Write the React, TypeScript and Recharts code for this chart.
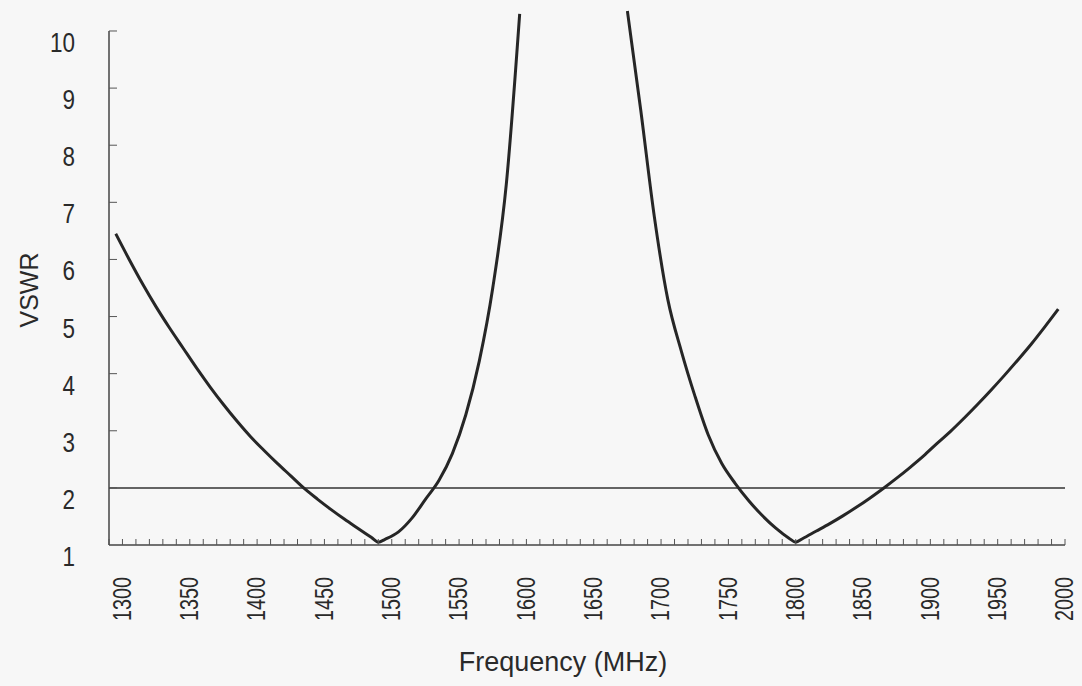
import { LineChart, Line, XAxis, YAxis, ReferenceLine } from 'recharts'

// frequency in MHz, VSWR (null where the curve runs off the top)
const freqs = [
  1300, 1310, 1320, 1330, 1340, 1350, 1360, 1370, 1380, 1390,
  1400, 1410, 1420, 1430, 1440, 1450, 1460, 1470, 1480, 1490, 1495,
  1500, 1510, 1520, 1530, 1540, 1550, 1560, 1570, 1580, 1590,
  1600, 1610, 1620, 1630, 1640, 1650, 1660, 1670, 1680, 1690,
  1700, 1710, 1720, 1730, 1740, 1750, 1760, 1770, 1780, 1790,
  1800, 1805, 1810, 1820, 1830, 1840, 1850, 1860, 1870, 1880, 1890,
  1900, 1910, 1920, 1930, 1940, 1950, 1960, 1970, 1980, 1990, 2000,
]
const vswr: (number | null)[] = [
  6.45, 6.0, 5.57, 5.17, 4.8, 4.45, 4.1, 3.77, 3.46, 3.17,
  2.9, 2.66, 2.43, 2.21, 1.99, 1.8, 1.62, 1.45, 1.29, 1.13, 1.05,
  1.1, 1.23, 1.47, 1.8, 2.13, 2.6, 3.28, 4.22, 5.5, 7.3,
  10.3, null, null, null, null, null, null, null, 10.35, 8.6,
  6.75, 5.3, 4.4, 3.62, 2.93, 2.43, 2.08, 1.78, 1.52, 1.3,
  1.12, 1.05, 1.11, 1.24, 1.37, 1.51, 1.66, 1.82, 1.99, 2.17, 2.36,
  2.56, 2.78, 2.99, 3.22, 3.46, 3.71, 3.97, 4.24, 4.52, 4.82, 5.13,
]

const limit = 2
const yTicks = [1, 2, 3, 4, 5, 6, 7, 8, 9, 10]
const xLabels = [1300, 1350, 1400, 1450, 1500, 1550, 1600, 1650, 1700, 1750, 1800, 1850, 1900, 1950, 2000]
// minor ticks sit between the 10 MHz steps
const xMinor = Array.from({ length: 72 }, (_, k) => 1295 + k * 10)

const rows = freqs.map((f, i) => ({ freq: f, vswr: vswr[i] }))

const ink = '#2a2a2a'
const font = "'Liberation Sans', Arial, sans-serif"

function XTick({ x, y, payload }: any) {
  const v = payload.value
  const minor = xMinor.includes(v)
  const label = xLabels.includes(v)
  return (
    <g>
      {minor && <line x1={x} y1={y} x2={x} y2={y - 6} stroke="#555" strokeWidth={1} />}
      {label && (
        <text
          x={x + 6}
          y={y + 32}
          transform={`rotate(-90, ${x + 6}, ${y + 32})`}
          textAnchor="end"
          dominantBaseline="central"
          fontFamily={font}
          fontSize={26}
          textLength={44}
          lengthAdjust="spacingAndGlyphs"
          fill={ink}
        >
          {v}
        </text>
      )}
    </g>
  )
}

function YTick({ x, y, payload }: any) {
  const s = String(payload.value)
  return (
    <g>
      {payload.value > 1 && <line x1={x} y1={y} x2={x + 8} y2={y} stroke="#555" strokeWidth={1} />}
      <text
        x={75}
        y={y + 12}
        textAnchor="end"
        dominantBaseline="central"
        fontFamily={font}
        fontSize={27}
        textLength={12.5 * s.length}
        lengthAdjust="spacingAndGlyphs"
        fill={ink}
      >
        {s}
      </text>
    </g>
  )
}

export default function App() {
  const xTicks = Array.from(new Set([...xMinor, ...xLabels])).sort((a, b) => a - b)
  return (
    <div style={{ width: 1082, height: 686, background: '#f7f7f7' }}>
      <style>{'body{margin:0;background:#f7f7f7}'}</style>
      <LineChart width={1082} height={686} data={rows} margin={{ top: 11, right: 17, bottom: 0, left: 0 }}>
        <XAxis
          dataKey="freq"
          type="number"
          domain={[1295, 2005]}
          ticks={xTicks}
          interval={0}
          tick={<XTick />}
          tickSize={0}
          tickMargin={0}
          tickLine={false}
          axisLine={{ stroke: '#444', strokeWidth: 1.5 }}
          height={141}
          label={({ viewBox }: any) => (
            <text
              x={viewBox.x + viewBox.width / 2 - 24}
              y={viewBox.y + 126}
              textAnchor="middle"
              fontFamily={font}
              fontSize={27}
              fill={ink}
            >
              Frequency (MHz)
            </text>
          )}
        />
        <YAxis
          type="number"
          domain={[1, 10.35]}
          ticks={yTicks}
          interval={0}
          tick={<YTick />}
          tickSize={0}
          tickMargin={0}
          tickLine={false}
          axisLine={false}
          width={109}
          label={() => (
            <text
              x={29}
              y={290}
              transform="rotate(-90, 29, 290)"
              textAnchor="middle"
              dominantBaseline="central"
              fontFamily={font}
              fontSize={25}
              fill={ink}
            >
              VSWR
            </text>
          )}
        />
        <ReferenceLine
          segment={[{ x: 1295, y: 1 }, { x: 1295, y: 10 }]}
          stroke="#444"
          strokeWidth={1.5}
        />
        <ReferenceLine y={limit} stroke="#333" strokeWidth={1.5} />
        <Line
          dataKey="vswr"
          type="monotone"
          stroke="#262626"
          strokeWidth={3}
          dot={false}
          connectNulls={false}
          isAnimationActive={false}
        />
      </LineChart>
    </div>
  )
}
